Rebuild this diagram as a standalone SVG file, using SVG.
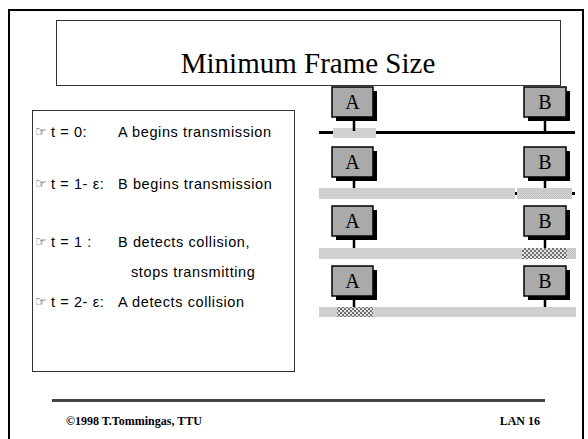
<svg xmlns="http://www.w3.org/2000/svg" width="588" height="439" viewBox="0 0 588 439">
<style>
.st{fill:#aaaaaa;stroke:#000;stroke-width:1.5}
.sh{fill:#000}
.lb{font-family:"Liberation Serif","Times New Roman",serif;font-size:20px;text-anchor:middle;fill:#000}
.ti{font-family:"Liberation Serif","Times New Roman",serif;font-size:29px;text-anchor:middle;fill:#000}
.tx{font-family:"Liberation Sans",Arial,sans-serif;font-size:14.5px;letter-spacing:0.6px;fill:#000}
.hand{font-family:"DejaVu Sans",sans-serif;font-size:13px;fill:#444}
.bar{fill:#d0d0d0}
.ft{font-family:"Liberation Serif","Times New Roman",serif;font-size:12px;font-weight:bold;fill:#000}
</style>
<defs>
<pattern id="stip" width="2" height="2" patternUnits="userSpaceOnUse">
<rect width="2" height="2" fill="#d8d8d8"/><rect width="1" height="1" fill="#bdbdbd"/><rect x="1" y="1" width="1" height="1" fill="#bdbdbd"/>
</pattern>
<pattern id="chk" width="4" height="4" patternUnits="userSpaceOnUse">
<rect width="4" height="4" fill="#e4e4e4"/><rect width="2" height="2" fill="#707070"/><rect x="2" y="2" width="2" height="2" fill="#707070"/>
</pattern>
</defs>
<rect x="9" y="10" width="574" height="440" fill="#fff" stroke="#000" stroke-width="2"/>
<g id="title">
<rect x="56.5" y="20.5" width="504" height="65" fill="#fff" stroke="#333" stroke-width="1"/>
<text class="ti" x="308" y="73">Minimum Frame Size</text>
</g>
<g id="legend">
<rect x="32.5" y="110.5" width="262" height="261" fill="#fff" stroke="#333" stroke-width="1"/>
<text class="hand" x="35" y="136">☞</text><text class="tx" x="51" y="137">t = 0:</text><text class="tx" x="118" y="137">A begins transmission</text>
<text class="hand" x="35" y="188">☞</text><text class="tx" x="51" y="189">t = 1- ε:</text><text class="tx" x="118" y="189">B begins transmission</text>
<text class="hand" x="35" y="246">☞</text><text class="tx" x="51" y="247">t = 1 :</text><text class="tx" x="118" y="247">B detects collision,</text>
<text class="tx" x="131" y="277">stops transmitting</text>
<text class="hand" x="35" y="306">☞</text><text class="tx" x="51" y="307">t = 2- ε:</text><text class="tx" x="118" y="307">A detects collision</text>
</g>
<g id="connectors">
<line x1="319" y1="132.5" x2="575" y2="132.5" stroke="#000" stroke-width="3"/>
<rect class="bar" x="333" y="128" width="43" height="10"/>
<line x1="354" y1="117" x2="354" y2="131" stroke="#000" stroke-width="2.5"/>
<line x1="545" y1="117" x2="545" y2="131" stroke="#000" stroke-width="2.5"/>
<rect class="bar" x="319" y="188" width="196" height="11"/>
<rect x="515" y="192" width="3" height="3" fill="#000"/>
<rect x="517" y="188" width="55" height="11" fill="url(#stip)"/>
<rect x="572" y="192" width="3" height="3" fill="#000"/>
<line x1="354" y1="177" x2="354" y2="188" stroke="#000" stroke-width="2.5"/>
<line x1="545" y1="177" x2="545" y2="188" stroke="#000" stroke-width="2.5"/>
<rect class="bar" x="319" y="248" width="257" height="11"/>
<rect x="522" y="248" width="45" height="11" fill="url(#chk)"/>
<rect x="567" y="248" width="9" height="11" fill="url(#stip)"/>
<line x1="354" y1="236" x2="354" y2="248" stroke="#000" stroke-width="2.5"/>
<line x1="545" y1="236" x2="545" y2="248" stroke="#000" stroke-width="2.5"/>
<rect class="bar" x="319" y="307" width="257" height="10"/>
<rect x="337" y="307" width="36" height="10" fill="url(#chk)"/>
<line x1="354" y1="296" x2="354" y2="307" stroke="#000" stroke-width="2.5"/>
<line x1="545" y1="296" x2="545" y2="307" stroke="#000" stroke-width="2.5"/>
</g>
<g id="A1"><rect class="sh" x="336" y="91" width="41" height="30"/><rect class="st" x="332" y="87" width="41" height="30"/><text class="lb" x="352.5" y="109">A</text></g>
<g id="B1"><rect class="sh" x="528" y="91" width="42" height="30"/><rect class="st" x="524" y="87" width="42" height="30"/><text class="lb" x="545" y="109">B</text></g>
<g id="A2"><rect class="sh" x="336" y="151" width="41" height="30"/><rect class="st" x="332" y="147" width="41" height="30"/><text class="lb" x="352.5" y="169">A</text></g>
<g id="B2"><rect class="sh" x="528" y="151" width="42" height="30"/><rect class="st" x="524" y="147" width="42" height="30"/><text class="lb" x="545" y="169">B</text></g>
<g id="A3"><rect class="sh" x="336" y="210" width="41" height="30"/><rect class="st" x="332" y="206" width="41" height="30"/><text class="lb" x="352.5" y="228">A</text></g>
<g id="B3"><rect class="sh" x="528" y="210" width="42" height="30"/><rect class="st" x="524" y="206" width="42" height="30"/><text class="lb" x="545" y="228">B</text></g>
<g id="A4"><rect class="sh" x="336" y="270" width="41" height="30"/><rect class="st" x="332" y="266" width="41" height="30"/><text class="lb" x="352.5" y="288">A</text></g>
<g id="B4"><rect class="sh" x="528" y="270" width="42" height="30"/><rect class="st" x="524" y="266" width="42" height="30"/><text class="lb" x="545" y="288">B</text></g>
<g id="footer">
<line x1="52" y1="400.5" x2="545" y2="400.5" stroke="#444" stroke-width="3"/>
<text class="ft" x="66" y="425">©1998 T.Tommingas, TTU</text>
<text class="ft" x="540" y="425" text-anchor="end">LAN 16</text>
</g>
</svg>
